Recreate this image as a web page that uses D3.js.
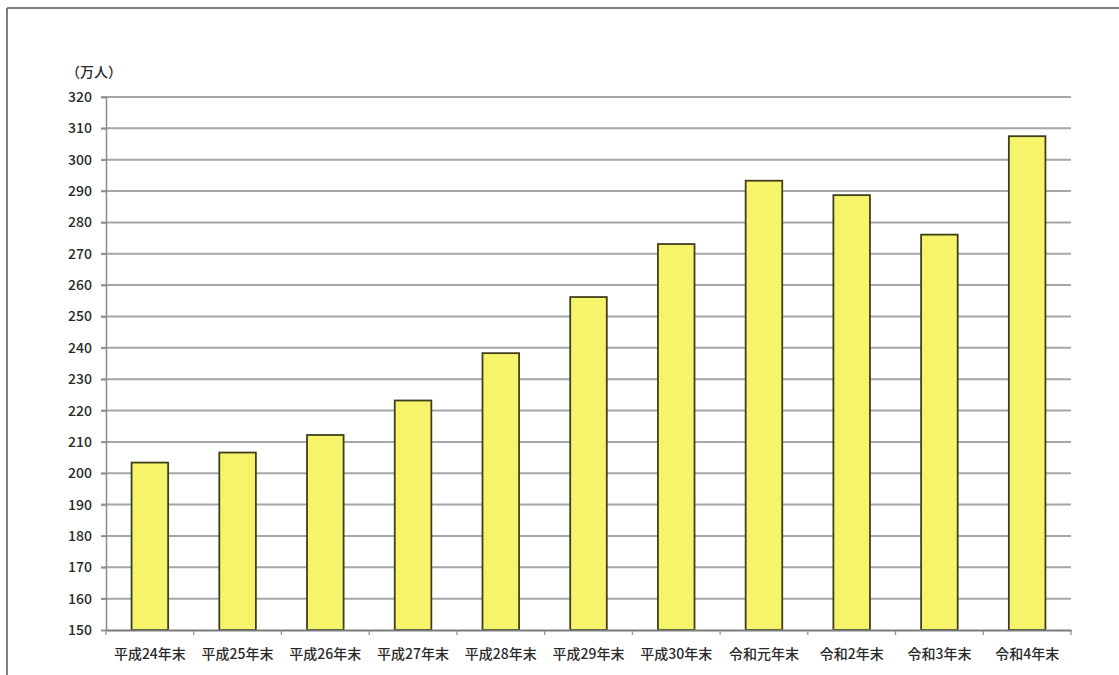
<!DOCTYPE html>
<html><head><meta charset="utf-8">
<script src="https://cdn.jsdelivr.net/npm/d3@7"></script>
<style>
html,body{margin:0;padding:0;background:#fff;}
svg{display:block;}
text{font-family:"Noto Sans CJK JP","Noto Sans",sans-serif;fill:#2a2a2a;}
</style></head>
<body>
<svg id="chart" width="1119" height="675"></svg>
<script>
const categories = ["平成24年末","平成25年末","平成26年末","平成27年末","平成28年末","平成29年末","平成30年末","令和元年末","令和2年末","令和3年末","令和4年末"];
const values = [203.4, 206.6, 212.2, 223.2, 238.3, 256.2, 273.1, 293.3, 288.7, 276.1, 307.5];
const yTicks = [150,160,170,180,190,200,210,220,230,240,250,260,270,280,290,300,310,320];
const unitLabel = "（万人）";

(function(){
const svg = d3.select("#chart");
const W = 1119, H = 675;
const mLeft = 106, mRight = 1071, mTop = 97, mBottom = 630;

// page border (top and left edges)
svg.append("line").attr("x1",7).attr("y1",8).attr("x2",W).attr("y2",8).attr("stroke","#555").attr("stroke-width",1.5);
svg.append("line").attr("x1",7).attr("y1",8).attr("x2",7).attr("y2",H).attr("stroke","#555").attr("stroke-width",1.5);

const x = d3.scaleBand().domain(categories).range([mLeft,mRight]).paddingInner(0.583).paddingOuter(0.2915);
const y = d3.scaleLinear().domain([150,320]).range([mBottom,mTop]);

// gridlines
svg.append("g").selectAll("line").data(yTicks.filter(d=>d>150)).join("line")
  .attr("x1",mLeft-5).attr("x2",mRight).attr("y1",d=>y(d)).attr("y2",d=>y(d))
  .attr("stroke","#a6a6a6").attr("stroke-width",2);

// y axis
const yAxis = d3.axisLeft(y).tickValues(yTicks).tickSize(5).tickPadding(9).tickFormat(d3.format("d"));
const gy = svg.append("g").attr("transform",`translate(${mLeft},0)`).call(yAxis);
gy.select(".domain").attr("stroke","#8c8c8c").attr("stroke-width",1.5);
gy.selectAll(".tick line").attr("stroke","#8c8c8c").attr("stroke-width",1.5);
gy.selectAll(".tick text").style("font-size","14px").style("font-weight","500").attr("fill","#2a2a2a");

// bars
svg.append("g").selectAll("rect").data(values).join("rect")
  .attr("x",(d,i)=>x(categories[i]))
  .attr("y",d=>y(d))
  .attr("width",x.bandwidth())
  .attr("height",d=>mBottom-y(d))
  .attr("fill","#f6f46a")
  .attr("stroke","#3f3f1c")
  .attr("stroke-width",1.8);

// x axis
const gx = svg.append("g").attr("transform",`translate(0,${mBottom})`)
  .call(d3.axisBottom(x).tickSize(0).tickPadding(19));
gx.select(".domain").attr("stroke","#7a7a7a").attr("stroke-width",1.8);
gx.selectAll(".tick text").style("font-size","14px").style("font-weight","500").attr("fill","#2a2a2a");
// boundary ticks between categories
const bounds = d3.range(categories.length+1).map(i=>mLeft + i*x.step());
svg.append("g").selectAll("line").data(bounds).join("line")
  .attr("x1",d=>d).attr("x2",d=>d).attr("y1",mBottom).attr("y2",mBottom+5)
  .attr("stroke","#8c8c8c").attr("stroke-width",1.2);

// unit label
svg.append("text").attr("x",66).attr("y",77).style("font-size","14px").style("font-weight","500").text(unitLabel);
})();
</script>
</body></html>
